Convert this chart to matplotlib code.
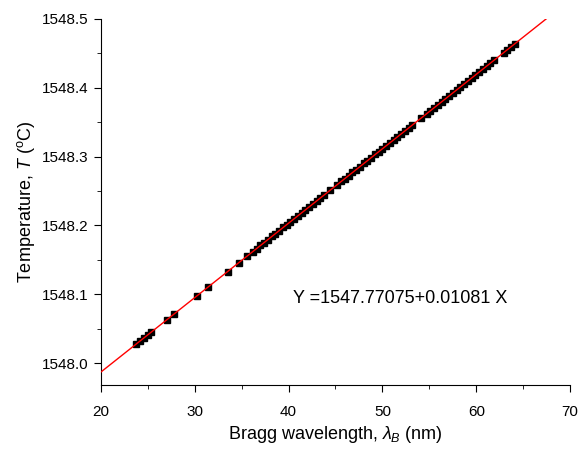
import matplotlib.pyplot as plt
import numpy as np
from matplotlib.ticker import MultipleLocator

plt.rcParams['font.family'] = ['Liberation Sans', 'DejaVu Sans']
plt.rcParams['mathtext.fontset'] = 'custom'
plt.rcParams['mathtext.rm'] = 'Liberation Sans'
plt.rcParams['mathtext.it'] = 'Liberation Sans:italic'

# measured points (Bragg wavelength, temperature)
wavelength = [23.8, 24.2, 24.6, 25.0, 25.4, 27.0, 27.8, 30.2, 31.4, 33.5, 34.7, 35.6,
              36.2, 36.6, 37.0, 37.4, 37.8, 38.2, 38.6, 39.0, 39.4, 39.8, 40.2, 40.6,
              41.0, 41.4, 41.8, 42.2, 42.6, 43.0, 43.4, 43.8, 44.4, 45.2, 45.6, 46.0,
              46.4, 46.8, 47.2, 47.6, 48.0, 48.4, 48.8, 49.2, 49.6, 50.0, 50.4, 50.8,
              51.2, 51.6, 52.0, 52.4, 52.8, 53.2, 54.1, 54.7, 55.1, 55.5, 55.9, 56.3,
              56.7, 57.1, 57.5, 57.9, 58.3, 58.7, 59.1, 59.5, 59.9, 60.3, 60.7, 61.1,
              61.5, 61.9, 62.9, 63.3, 63.7, 64.1]
temperature = [1548.028, 1548.032, 1548.037, 1548.041, 1548.045, 1548.063, 1548.071,
               1548.097, 1548.110, 1548.133, 1548.146, 1548.156, 1548.162, 1548.166,
               1548.171, 1548.175, 1548.179, 1548.184, 1548.188, 1548.192, 1548.197,
               1548.201, 1548.205, 1548.210, 1548.214, 1548.218, 1548.223, 1548.227,
               1548.231, 1548.236, 1548.240, 1548.244, 1548.251, 1548.259, 1548.264,
               1548.268, 1548.272, 1548.277, 1548.281, 1548.285, 1548.290, 1548.294,
               1548.298, 1548.303, 1548.307, 1548.311, 1548.316, 1548.320, 1548.324,
               1548.329, 1548.333, 1548.337, 1548.342, 1548.346, 1548.356, 1548.362,
               1548.366, 1548.371, 1548.375, 1548.379, 1548.384, 1548.388, 1548.392,
               1548.397, 1548.401, 1548.405, 1548.410, 1548.414, 1548.418, 1548.423,
               1548.427, 1548.431, 1548.436, 1548.440, 1548.451, 1548.455, 1548.459,
               1548.464]

# linear fit shown on the chart
intercept = 1547.77075
slope = 0.01081

fig = plt.figure(figsize=(5.86, 4.58), dpi=100)
ax = fig.add_axes([0.172, 0.159, 0.801, 0.8])

ax.plot(wavelength, temperature, 's', color='black', markersize=5, zorder=2)
xf = np.array([20, 70])
ax.plot(xf, intercept + slope * xf, '-', color='red', linewidth=1, zorder=3)

ax.text(40.5, 1548.094, 'Y =1547.77075+0.01081 X', fontsize=13, va='center', ha='left')

ax.set_xlim(20, 70)
ax.set_ylim(1547.968, 1548.5)
ax.xaxis.set_major_locator(MultipleLocator(10))
ax.xaxis.set_minor_locator(MultipleLocator(5))
ax.yaxis.set_major_locator(MultipleLocator(0.1))
ax.yaxis.set_minor_locator(MultipleLocator(0.05))
ax.yaxis.set_major_formatter(plt.FuncFormatter(lambda v, p: f'{v:.1f}'))

for s in ['top', 'right']:
    ax.spines[s].set_visible(False)
ax.tick_params(which='major', direction='out', length=5, labelsize=11)
ax.tick_params(which='minor', direction='out', length=3)
ax.tick_params(axis='x', which='major', pad=9)

ax.set_xlabel(r'Bragg wavelength, $\lambda_{B}$ (nm)', fontsize=13)
ax.set_ylabel(r'Temperature, $T$ ($^{\mathrm{o}}$C)', fontsize=13)

fig.savefig('out.png', dpi=100)
